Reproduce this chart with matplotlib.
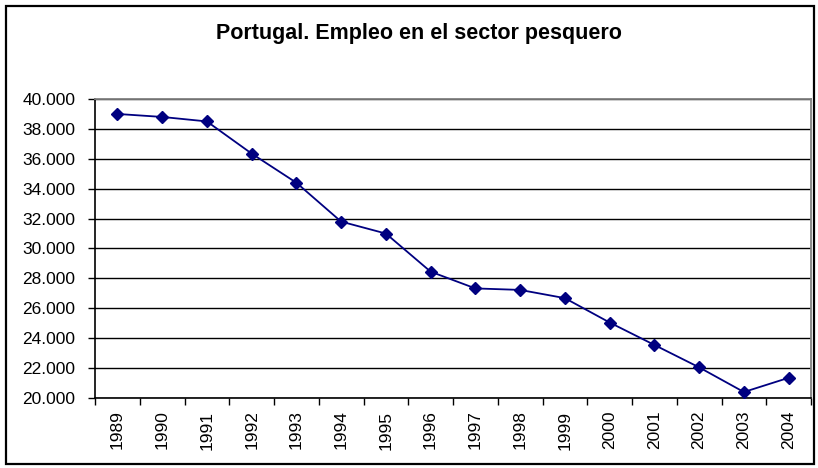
import matplotlib
matplotlib.use("Agg")
import matplotlib.pyplot as plt
from matplotlib.patches import Rectangle
from matplotlib.ticker import FuncFormatter, FixedLocator

years = [1989, 1990, 1991, 1992, 1993, 1994, 1995, 1996, 1997, 1998,
         1999, 2000, 2001, 2002, 2003, 2004]
employment = [39000, 38800, 38500, 36350, 34400, 31800, 31000, 28450,
              27330, 27230, 26680, 25050, 23550, 22050, 20400, 21350]
title = "Portugal. Empleo en el sector pesquero"
y_ticks = [20000, 22000, 24000, 26000, 28000, 30000, 32000, 34000,
           36000, 38000, 40000]

plt.rcParams['font.family'] = ['Liberation Sans', 'DejaVu Sans']

W, H = 818, 468
fig = plt.figure(figsize=(W / 100, H / 100), dpi=100)
fig.patch.set_facecolor('white')

# outer chart border
fig.patches.append(Rectangle((5.5 / W, 4.5 / H), (W - 10) / W, (H - 10.5) / H,
                             transform=fig.transFigure, fill=False,
                             edgecolor='black', linewidth=1.6, zorder=0))

left, right, top, bottom = 95, 811, 99, 398
ax = fig.add_axes([left / W, 1 - bottom / H, (right - left) / W, (bottom - top) / H])

x = list(range(len(years)))
ax.plot(x, employment, color='#000080', linewidth=1.3, marker='D',
        markersize=6.5, markerfacecolor='#000080', markeredgecolor='#000080',
        zorder=3, clip_on=False)

ax.set_xlim(-0.5, len(years) - 0.5)
ax.set_ylim(20000, 40000)
ax.set_yticks(y_ticks)
ax.yaxis.set_major_formatter(FuncFormatter(lambda v, p: f"{int(v):,}".replace(",", ".")))
ax.grid(axis='y', color='black', linewidth=1.0, zorder=1)

ax.xaxis.set_major_locator(FixedLocator([i - 0.5 for i in range(len(years) + 1)]))
ax.xaxis.set_minor_locator(FixedLocator(x))
ax.set_xticklabels([])
ax.set_xticklabels([str(y) for y in years], minor=True, rotation=90)
ax.tick_params(axis='x', which='major', length=5, width=1, direction='out', color='black')
ax.tick_params(axis='x', which='minor', length=0, pad=9, labelsize=12.5)
ax.tick_params(axis='y', length=5, width=1, direction='out', labelsize=12.5, pad=9)

for side in ['top', 'right']:
    ax.spines[side].set_color('#808080')
    ax.spines[side].set_linewidth(1.3)
ax.spines['left'].set_color('black')
ax.spines['bottom'].set_color('black')
ax.spines['left'].set_linewidth(1.2)
ax.spines['bottom'].set_linewidth(1.2)

fig.text(419 / W, 1 - 34 / H, title, ha='center', va='center',
         fontsize=15.5, fontweight='bold')

fig.savefig('out.png', dpi=100)
